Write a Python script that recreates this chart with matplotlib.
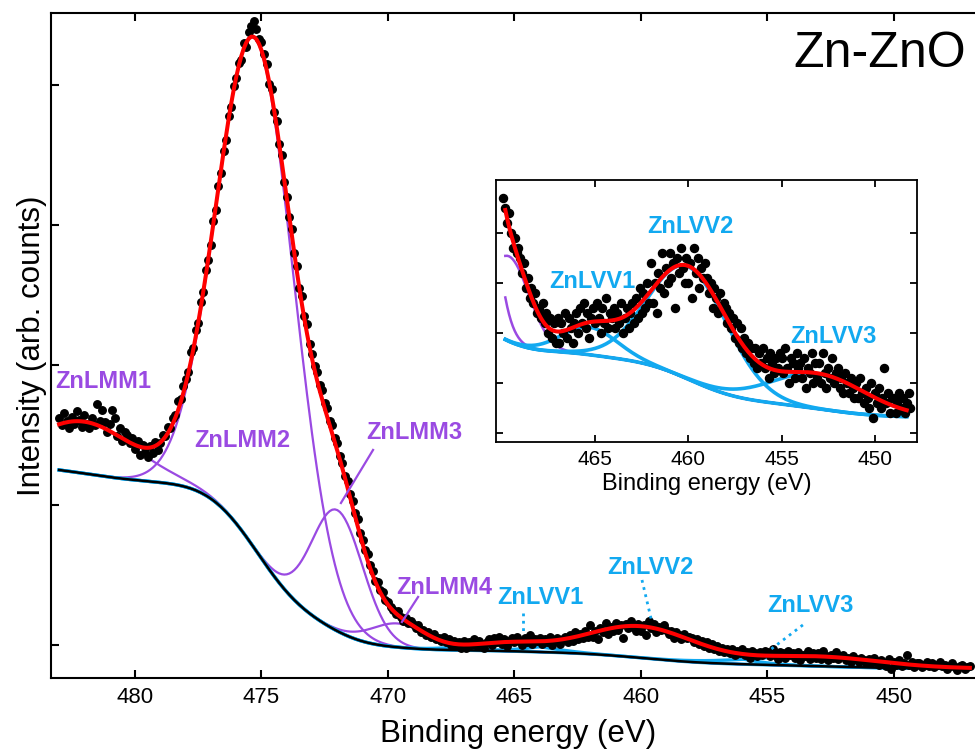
import numpy as np
import matplotlib.pyplot as plt

plt.rcParams['font.family'] = ['Liberation Sans', 'DejaVu Sans']

# binding energy grid of the scan (eV), 0.1 eV step
energy = np.linspace(483.0, 447.0, 361)

# measured intensity (arb. units), one row per eV from 483 down to 448
counts = np.array([
    1.62, 1.57, 1.66, 1.60, 1.55, 1.63, 1.58, 1.67, 1.61, 1.56,
    1.64, 1.58, 1.55, 1.62, 1.57, 1.72, 1.60, 1.68, 1.59, 1.52,
    1.58, 1.68, 1.62, 1.49, 1.55, 1.46, 1.52, 1.50, 1.44, 1.48,
    1.40, 1.46, 1.36, 1.43, 1.38, 1.34, 1.42, 1.37, 1.45, 1.39,
    1.44, 1.50, 1.49, 1.56, 1.55, 1.62, 1.64, 1.74, 1.76, 1.85,
    1.90, 1.95, 2.09, 2.12, 2.25, 2.30, 2.45, 2.52, 2.68, 2.75,
    2.86, 3.03, 3.11, 3.28, 3.37, 3.53, 3.61, 3.78, 3.84, 3.99,
    4.05, 4.16, 4.18, 4.30, 4.27, 4.38, 4.42, 4.46, 4.40, 4.33,
    4.31, 4.22, 4.15, 4.01, 3.97, 3.81, 3.74, 3.58, 3.50, 3.31,
    3.20, 3.06, 2.97, 2.80, 2.71, 2.55, 2.49, 2.35, 2.29, 2.15,
    2.08, 1.99, 1.95, 1.86, 1.82, 1.73, 1.69, 1.60, 1.57, 1.48,
    1.44, 1.35, 1.30, 1.21, 1.17, 1.08, 1.03, 0.94, 0.90, 0.80,
    0.75, 0.68, 0.65, 0.57, 0.53, 0.46, 0.45, 0.39, 0.38, 0.32,
    0.31, 0.27, 0.25, 0.22, 0.24, 0.20, 0.17, 0.19, 0.16, 0.17,
    0.15, 0.12, 0.14, 0.09, 0.11, 0.07, 0.09, 0.06, 0.08, 0.04,
    0.05, 0.03, 0.06, 0.02, 0.04, 0.00, 0.03, -0.01, 0.02, -0.02,
    0.03, -0.02, 0.02, 0.00, 0.04, -0.01, 0.03, 0.01, -0.02, 0.02,
    0.04, 0.00, 0.05, 0.02, 0.06, 0.01, 0.04, -0.01, 0.03, 0.05,
    0.02, 0.06, 0.03, 0.00, 0.05, 0.02, 0.07, 0.01, 0.04, 0.03,
    0.05, 0.01, 0.04, 0.02, 0.06, 0.00, 0.03, 0.05, 0.01, 0.04,
    0.06, 0.02, 0.07, 0.03, 0.09, 0.04, 0.08, 0.05, 0.10, 0.06,
    0.14, 0.06, 0.10, 0.04, 0.12, 0.09, 0.16, 0.08, 0.13, 0.10,
    0.16, 0.11, 0.14, 0.05, 0.15, 0.12, 0.17, 0.13, 0.10, 0.15,
    0.10, 0.14, 0.07, 0.17, 0.12, 0.15, 0.09, 0.13, 0.11, 0.14,
    0.11, 0.08, 0.10, 0.05, 0.09, 0.07, 0.04, 0.08, 0.05, 0.06,
    0.05, 0.02, 0.04, 0.01, 0.03, -0.01, 0.02, -0.02, 0.01, -0.03,
    -0.01, -0.04, -0.02, -0.05, -0.03, -0.06, -0.03, -0.07, -0.04, -0.06,
    -0.03, -0.07, -0.05, -0.09, -0.04, -0.06, -0.08, -0.05, -0.07, -0.04,
    -0.05, -0.08, -0.03, -0.07, -0.10, -0.05, -0.06, -0.09, -0.04, -0.07,
    -0.06, -0.09, -0.05, -0.11, -0.07, -0.08, -0.04, -0.10, -0.06, -0.09,
    -0.06, -0.10, -0.04, -0.08, -0.11, -0.07, -0.09, -0.05, -0.10, -0.08,
    -0.07, -0.11, -0.09, -0.12, -0.08, -0.10, -0.12, -0.09, -0.11, -0.13,
    -0.10, -0.13, -0.09, -0.12, -0.14, -0.11, -0.13, -0.15, -0.10, -0.17,
    -0.12, -0.14, -0.11, -0.15, -0.13, -0.07, -0.14, -0.12, -0.16, -0.13,
    -0.13, -0.16, -0.14, -0.12, -0.15, -0.13, -0.16, -0.14, -0.12, -0.15,
    -0.14, -0.17, -0.15, -0.13, -0.16, -0.18, -0.15, -0.14, -0.17, -0.16,
    -0.15,
])

# fitted Auger components : centre (eV), height, fwhm (eV)
lmm_names = ['ZnLMM1', 'ZnLMM2', 'ZnLMM3', 'ZnLMM4']
lmm_center = [482.0, 475.2, 472.0, 469.6]
lmm_height = [0.37, 3.65, 0.864, 0.17]
lmm_fwhm = [4.7, 3.6, 2.4, 2.6]

lvv_names = ['ZnLVV1', 'ZnLVV2', 'ZnLVV3']
lvv_center = [465.3, 460.0, 453.0]
lvv_height = [0.055, 0.225, 0.07]
lvv_fwhm = [3.5, 5.0, 6.0]

# background level at the high / low energy end of the window
bg_high = 1.25
bg_low = -0.168

purple = '#9a4ae2'
blue = '#12a9f0'


def gauss(c, h, w):
    return h * np.exp(-4 * np.log(2) * (energy - c) ** 2 / w ** 2)


lmm = [gauss(c, h, w) for c, h, w in zip(lmm_center, lmm_height, lmm_fwhm)]
lvv = [gauss(c, h, w) for c, h, w in zip(lvv_center, lvv_height, lvv_fwhm)]
peaks = sum(lmm) + sum(lvv)
# shirley type background : step proportional to the peak area on the low energy side
area = np.cumsum(peaks[::-1])[::-1]
bg = bg_low + (bg_high - bg_low) * area / area[0]
fit = bg + peaks

fig = plt.figure(figsize=(9.75, 7.53), dpi=100)
ax = fig.add_axes([0.0523, 0.0996, 0.958, 0.8831])

for c in lmm:
    ax.plot(energy, c + bg, color=purple, lw=1.6, zorder=2)
for c in lvv:
    ax.plot(energy, c + bg, color=blue, lw=2.4, zorder=3)
ax.plot(energy, bg, color='k', lw=1.8, zorder=4)
ax.plot(energy, counts, 'o', color='k', ms=5.4, zorder=5)
ax.plot(energy, fit, color='red', lw=2.9, zorder=6)

ax.set_xlim(483.32, 446.40)
ax.set_ylim(-0.236, 4.514)
ax.set_xticks([480, 475, 470, 465, 460, 455, 450])
ax.set_yticks([0, 1, 2, 3, 4])
ax.tick_params(direction='in', top=True, right=True, length=6, width=1.5,
               labelleft=False, labelsize=16, pad=6.5)
for s in ax.spines.values():
    s.set_linewidth(1.5)
ax.set_xlabel('Binding energy (eV)', fontsize=22.5, labelpad=8)
ax.set_ylabel('Intensity (arb. counts)', fontsize=22.5, labelpad=3)

# peak labels
lab = dict(fontsize=17, fontweight='bold', ha='center', va='center')
ax.text(481.26, 1.88, lmm_names[0], color=purple, **lab)
ax.text(475.77, 1.46, lmm_names[1], color=purple, **lab)
ax.text(468.97, 1.52, lmm_names[2], color=purple, **lab)
ax.text(467.79, 0.41, lmm_names[3], color=purple, **lab)
ax.text(463.99, 0.34, lvv_names[0], color=blue, **lab)
ax.text(459.64, 0.55, lvv_names[1], color=blue, **lab)
ax.text(453.32, 0.28, lvv_names[2], color=blue, **lab)
ax.plot([470.59, 471.86], [1.393, 1.014], color=purple, lw=1.6, zorder=7)
ax.plot([468.81, 469.45], [0.343, 0.164], color=purple, lw=1.6, zorder=7)
ax.plot([464.66, 464.66], [0.229, 0.086], color=blue, lw=2, ls=':', zorder=7)
ax.plot([459.96, 459.57], [0.464, 0.164], color=blue, lw=2, ls=':', zorder=7)
ax.plot([453.6, 454.9], [0.143, -0.036], color=blue, lw=2, ls=':', zorder=7)

fig.text(0.9026, 0.9283, 'Zn-ZnO', fontsize=36, ha='center', va='center')

# inset : zoom on the LVV region
ins = fig.add_axes([0.5087, 0.413, 0.4318, 0.348])
d = (energy <= 469.9) & (energy >= 448.1)
m = (energy <= 469.8) & (energy >= 448.3)
ins.plot(energy[m], bg[m], color='k', lw=2, zorder=2)
for c in lmm[2:]:
    ins.plot(energy[m], c[m] + bg[m], color=purple, lw=1.8, zorder=3)
for c in lvv:
    ins.plot(energy[m], c[m] + bg[m], color=blue, lw=2.6, zorder=4)
ins.plot(energy[d], counts[d], 'o', color='k', ms=5.8, zorder=5)
ins.plot(energy[m], fit[m], color='red', lw=2.9, zorder=6)
ins.set_xlim(470.3, 447.75)
ins.set_ylim(-0.218, 0.306)
ins.set_xticks([465, 460, 455, 450])
ins.set_yticks([-0.2, -0.1, 0, 0.1, 0.2])
ins.tick_params(direction='in', top=True, right=True, length=5, width=1.3,
                labelleft=False, labelsize=15, pad=5.5)
for s in ins.spines.values():
    s.set_linewidth(1.3)
ins.set_xlabel('Binding energy (eV)', fontsize=17, labelpad=3)
ins.text(465.16, 0.102, lvv_names[0], color=blue, **lab)
ins.text(459.86, 0.212, lvv_names[1], color=blue, **lab)
ins.text(452.25, -0.008, lvv_names[2], color=blue, **lab)

fig.savefig('out.png', dpi=100)
